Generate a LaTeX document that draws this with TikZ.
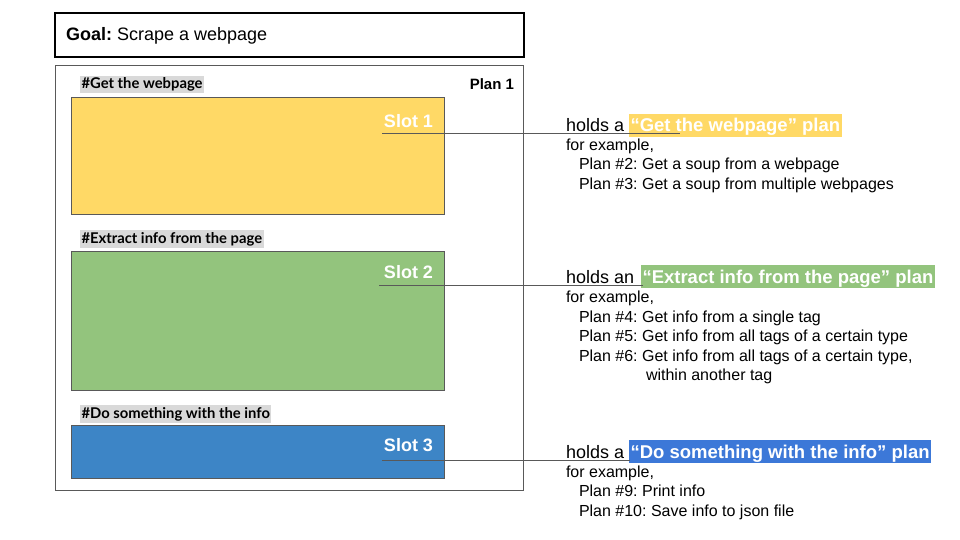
\documentclass[tikz,border=0pt]{standalone}
\usepackage{fontspec}
\setmainfont{Liberation Sans}
\newfontfamily\labfont{Lato}
\definecolor{slotyellow}{HTML}{FFD966}
\definecolor{slotgreen}{HTML}{93C47D}
\definecolor{slotblue}{HTML}{3D85C6}
\definecolor{hiblue}{HTML}{3C78D8}
\definecolor{labgray}{HTML}{D9D9D9}
\definecolor{edgegray}{HTML}{595959}
\newcommand{\fs}[1]{\fontsize{#1}{#1}\selectfont}
\frenchspacing
\begin{document}
\begin{tikzpicture}[x=1pt,y=-1pt,
  every node/.style={inner sep=0pt, outer sep=0pt},
  slotbox/.style={draw=edgegray, line width=1pt},
  slotname/.style={anchor=base east, text=white, font=\fs{18}\bfseries},
  lab/.style={anchor=base west, fill=labgray, inner xsep=1.5pt, text height=13pt, text depth=4.5pt, font=\labfont\bfseries\fs{14.8}},
  holds/.style={anchor=base west, font=\fs{18}},
  hi/.style={anchor=base west, text=white, font=\fs{18.5}\bfseries, inner xsep=1.5pt, text height=18pt, text depth=5pt},
  small/.style={anchor=base west, font=\fs{16}},
  conn/.style={draw=edgegray, line width=1pt}
]
\useasboundingbox (0,0) rectangle (960,540);
% goal
\node[draw=black, line width=1.3pt, minimum width=469pt, minimum height=44pt, anchor=north west] (goal) at (55,13) {};
\node[anchor=base west, font=\fs{18}] (goaltext) at (66,40.5) {\textbf{Goal:} Scrape a webpage};
% plan frame
\node[draw=edgegray, line width=1pt, minimum width=468pt, minimum height=424pt, anchor=north west] (plan) at (55,66) {};
\node[anchor=base east, font=\fs{15}\bfseries] (planname) at (514,89.5) {Plan 1};
% slot labels
\node[lab] (lab1) at (80,89) {\#Get the webpage};
\node[lab] (lab2) at (80,243) {\#Extract info from the page};
\node[lab] (lab3) at (80,418) {\#Do something with the info};
% slots
\node[slotbox, fill=slotyellow, minimum width=373pt, minimum height=116pt, anchor=north west] (slot1) at (71,98) {};
\node[slotbox, fill=slotgreen, minimum width=373pt, minimum height=139pt, anchor=north west] (slot2) at (71,251) {};
\node[slotbox, fill=slotblue, minimum width=373pt, minimum height=53pt, anchor=north west] (slot3) at (71,425) {};
\node[slotname] (sn1) at (433,127.5) {Slot 1};
\node[slotname] (sn2) at (433,278.5) {Slot 2};
\node[slotname] (sn3) at (433,451.5) {Slot 3};
% block 1
\node[holds] (h1) at (566,132) {holds a};
\node[hi, fill=slotyellow] (hi1) at (629,132) {“Get the webpage” plan};
\node[small] (fe1) at (566,150.5) {for example,};
\node[small] (p2) at (579,170) {Plan \#2: Get a soup from a webpage};
\node[small] (p3) at (579,189.5) {Plan \#3: Get a soup from multiple webpages};
% block 2
\node[holds] (h2) at (566,283) {holds an};
\node[hi, fill=slotgreen] (hi2) at (641,283) {“Extract info from the page” plan};
\node[small] (fe2) at (566,302.5) {for example,};
\node[small] (p4) at (579,322) {Plan \#4: Get info from a single tag};
\node[small] (p5) at (579,341.5) {Plan \#5: Get info from all tags of a certain type};
\node[small] (p6) at (579,361) {Plan \#6: Get info from all tags of a certain type,};
\node[small] (p6b) at (646,380.5) {within another tag};
% block 3
\node[holds] (h3) at (566,458) {holds a};
\node[hi, fill=hiblue] (hi3) at (629,458) {“Do something with the info” plan};
\node[small] (fe3) at (566,477) {for example,};
\node[small] (p9) at (579,496.5) {Plan \#9: Print info};
\node[small] (p10) at (579,516) {Plan \#10: Save info to json file};
% connectors
\coordinate (c1a) at (382,134);
\coordinate (c1b) at (680,134);
\coordinate (c2a) at (379,285);
\coordinate (c2b) at (643,285);
\coordinate (c3a) at (382,460);
\coordinate (c3b) at (630,460);
\draw[conn] (c1a) -- (c1b);
\draw[conn] (c2a) -- (c2b);
\draw[conn] (c3a) -- (c3b);
\end{tikzpicture}
\end{document}
